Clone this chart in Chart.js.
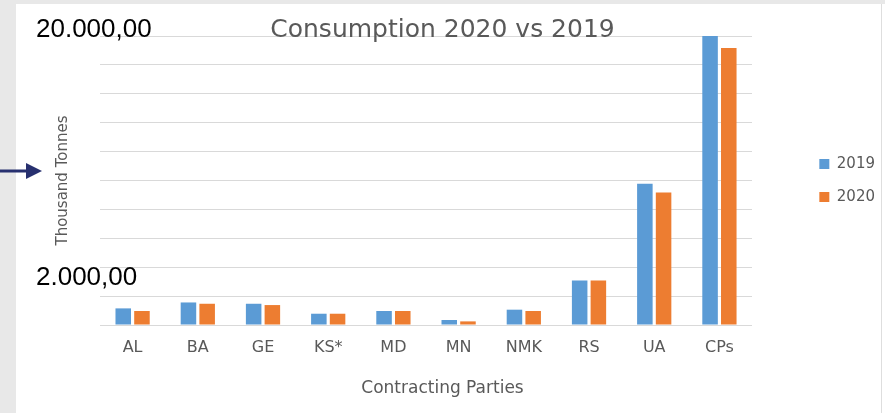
<!DOCTYPE html>
<html lang="en">
<head>
    <meta charset="UTF-8">
    <title>Consumption 2020 vs 2019</title>
    <script src="https://cdn.jsdelivr.net/npm/chart.js"></script>
    <style>
        body {
            margin: 0;
            width: 885px;
            height: 413px;
            background: #e8e8e8;
            position: relative;
            overflow: hidden;
        }
        .panel {
            position: absolute;
            left: 16px;
            top: 4px;
            width: 869px;
            height: 409px;
            background: #fff;
        }
        .edge {
            position: absolute;
            left: 881px;
            top: 4px;
            width: 1px;
            height: 409px;
            background: #dedede;
        }
        #chart {
            position: absolute;
            left: 0;
            top: 0;
        }
        .note {
            position: absolute;
            left: 36px;
            font-family: "Liberation Sans", Arial, sans-serif;
            font-size: 26px;
            line-height: 26px;
            color: #000;
        }
        #arrow {
            position: absolute;
            left: 0;
            top: 160px;
        }
    </style>
</head>
<body>
    <div class="panel"></div>
    <div class="edge"></div>
    <canvas id="chart" width="885" height="413"></canvas>
    <div class="note" style="top:15px">20.000,00</div>
    <div class="note" style="top:263px">2.000,00</div>
    <svg id="arrow" width="46" height="22" viewBox="0 0 46 22">
        <rect x="0" y="9.5" width="28" height="3" fill="#27306f"/>
        <polygon points="26,3 42,11 26,19" fill="#27306f"/>
    </svg>
<script>
    const categories = ['AL', 'BA', 'GE', 'KS*', 'MD', 'MN', 'NMK', 'RS', 'UA', 'CPs'];
    const years = ['2019', '2020'];
    // thousand tonnes
    const cons2019 = [1150, 1560, 1470, 780, 970, 345, 1060, 3080, 9770, 20000];
    const cons2020 = [970, 1470, 1380, 780, 970, 250, 970, 3080, 9170, 19170];
    const yMax = 20000;
    const yStep = 2000;

    const txt = '#595959';
    const font = 'DejaVu Sans';

    new Chart(document.getElementById('chart'), {
        type: 'bar',
        data: {
            labels: categories,
            datasets: [
                {
                    label: years[0],
                    data: cons2019,
                    backgroundColor: '#5b9bd5'
                },
                {
                    label: years[1],
                    data: cons2020,
                    backgroundColor: '#ed7d31'
                }
            ]
        },
        options: {
            responsive: false,
            animation: false,
            devicePixelRatio: 1,
            categoryPercentage: 0.574,
            barPercentage: 0.83,
            layout: {
                padding: { left: 0, right: 0, top: 0, bottom: 14 }
            },
            plugins: {
                title: {
                    display: true,
                    text: 'Consumption 2020 vs 2019',
                    color: txt,
                    font: { family: font, size: 25, weight: 'normal' },
                    padding: { top: 15, bottom: -9 }
                },
                subtitle: {
                    display: true,
                    position: 'bottom',
                    text: 'Contracting Parties',
                    color: txt,
                    font: { family: font, size: 17 },
                    padding: { top: 0, bottom: 0 }
                },
                legend: {
                    position: 'right',
                    fullSize: false,
                    labels: {
                        boxWidth: 10,
                        boxHeight: 10,
                        padding: 18,
                        color: txt,
                        font: { family: font, size: 15 }
                    }
                },
                tooltip: { enabled: false }
            },
            scales: {
                x: {
                    grid: { display: false, drawTicks: false },
                    border: { display: false },
                    ticks: {
                        color: txt,
                        padding: 13,
                        font: { family: font, size: 16 }
                    },
                    afterFit: function(scale) { scale.height = 53.6; }
                },
                y: {
                    min: 0,
                    max: yMax,
                    ticks: { display: false, stepSize: yStep },
                    grid: { color: '#d9d9d9', lineWidth: 1, drawTicks: false },
                    border: { display: false },
                    title: {
                        display: true,
                        text: 'Thousand Tonnes',
                        color: txt,
                        font: { family: font, size: 15 },
                        padding: { top: 54, bottom: 0 }
                    },
                    afterFit: function(scale) { scale.width = 100; }
                },
                // empty axis that keeps the legend away from the bars
                gap: {
                    position: 'right',
                    display: true,
                    ticks: { display: false },
                    grid: { display: false, drawTicks: false },
                    border: { display: false },
                    afterFit: function(scale) { scale.width = 49.3; }
                }
            }
        }
    });
</script>
</body>
</html>
